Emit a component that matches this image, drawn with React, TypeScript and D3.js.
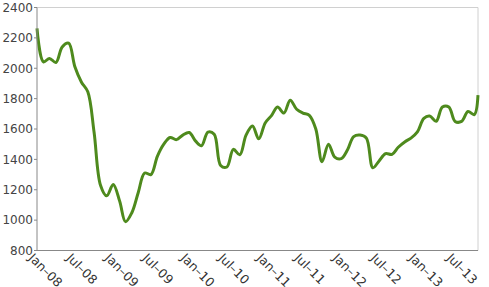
import React from "react";
import * as d3 from "d3";

const dates: string[] = [
  "2008-01-01","2008-02-01","2008-03-01","2008-04-01","2008-05-01","2008-06-01","2008-07-01","2008-08-01","2008-09-01","2008-10-01","2008-11-01","2008-12-01",
  "2009-01-01","2009-02-01","2009-03-01","2009-04-01","2009-05-01","2009-06-01","2009-07-01","2009-08-01","2009-09-01","2009-10-01","2009-11-01","2009-12-01",
  "2010-01-01","2010-02-01","2010-03-01","2010-04-01","2010-05-01","2010-06-01","2010-07-01","2010-08-01","2010-09-01","2010-10-01","2010-11-01","2010-12-01",
  "2011-01-01","2011-02-01","2011-03-01","2011-04-01","2011-05-01","2011-06-01","2011-07-01","2011-08-01","2011-09-01","2011-10-01","2011-11-01","2011-12-01",
  "2012-01-01","2012-02-01","2012-03-01","2012-04-01","2012-05-01","2012-06-01","2012-07-01","2012-08-01","2012-09-01","2012-10-01","2012-11-01","2012-12-01",
  "2013-01-01","2013-02-01","2013-03-01","2013-04-01","2013-05-01","2013-06-01","2013-07-01","2013-08-01","2013-09-01","2013-10-01","2013-10-19",
];

const values: number[] = [
  2263, 2042, 2065, 2038, 2140, 2165, 2010, 1910, 1845, 1580, 1230, 1160,
  1235, 1125, 990, 1050, 1180, 1310, 1300, 1420, 1500, 1544, 1530, 1560,
  1577, 1520, 1490, 1580, 1565, 1360, 1350, 1466, 1430, 1560, 1620, 1535,
  1640, 1690, 1745, 1705, 1790, 1730, 1705, 1690, 1600, 1385, 1500, 1415,
  1405, 1465, 1550, 1560, 1540, 1345, 1390, 1438, 1433, 1480, 1515, 1540,
  1581, 1670, 1685, 1651, 1745, 1745, 1650, 1650, 1715, 1695, 1823,
];

const yTicks: number[] = [800, 1000, 1200, 1400, 1600, 1800, 2000, 2200, 2400];
const xTickDates: string[] = [
  "2008-01-01","2008-07-01","2009-01-01","2009-07-01","2010-01-01","2010-07-01",
  "2011-01-01","2011-07-01","2012-01-01","2012-07-01","2013-01-01","2013-07-01",
];
const xTickLabels: string[] = [
  "Jan–08","Jul–08","Jan–09","Jul–09","Jan–10","Jul–10",
  "Jan–11","Jul–11","Jan–12","Jul–12","Jan–13","Jul–13",
];

const W = 489, H = 287;
const left = 37, right = 478, top = 7.5, bottom = 250.5;

export default function App() {
  const parse = d3.timeParse("%Y-%m-%d");
  const pts = dates.map((d, i) => ({ d: parse(d) as Date, v: values[i] }));
  const x = d3.scaleTime().domain([pts[0].d, pts[pts.length - 1].d]).range([left, right]);
  const y = d3.scaleLinear().domain([800, 2400]).range([bottom, top]);
  const line = d3.line<{ d: Date; v: number }>()
    .x(p => x(p.d))
    .y(p => y(p.v))
    .curve(d3.curveCatmullRom.alpha(0.5));
  const font = "'DejaVu Sans', Verdana, sans-serif";
  return (
    <svg width={W} height={H} style={{ position: "absolute", left: 0, top: 0, background: "#fff" }}
      fontFamily={font}>
      <rect x={0} y={0} width={W} height={H} fill="#fff" />
      <line x1={left} x2={right} y1={top} y2={top} stroke="#d0d0d0" strokeWidth={1} />
      <line x1={right} x2={right} y1={top} y2={bottom} stroke="#d0d0d0" strokeWidth={1} />
      <path d={line(pts) || ""} fill="none" stroke="#4e8a1d" strokeWidth={3} strokeLinejoin="round" />
      <line x1={left} x2={left} y1={top} y2={bottom} stroke="#888" strokeWidth={1} />
      <line x1={left} x2={right} y1={bottom} y2={bottom} stroke="#888" strokeWidth={1} />
      {yTicks.map(t => (
        <g key={t}>
          <line x1={left - 3} x2={left} y1={y(t)} y2={y(t)} stroke="#888" />
          <text x={left - 4} y={y(t)} dy="0.36em" textAnchor="end" fontSize={12} fill="#444">{t}</text>
        </g>
      ))}
      {xTickDates.map((d, i) => {
        const xx = x(parse(d) as Date);
        return (
          <text key={d} transform={`translate(${xx - 3},${bottom + 2}) rotate(45)`} dy="0.7em"
            textAnchor="start" fontSize={12.5} fill="#333">{xTickLabels[i]}</text>
        );
      })}
    </svg>
  );
}
